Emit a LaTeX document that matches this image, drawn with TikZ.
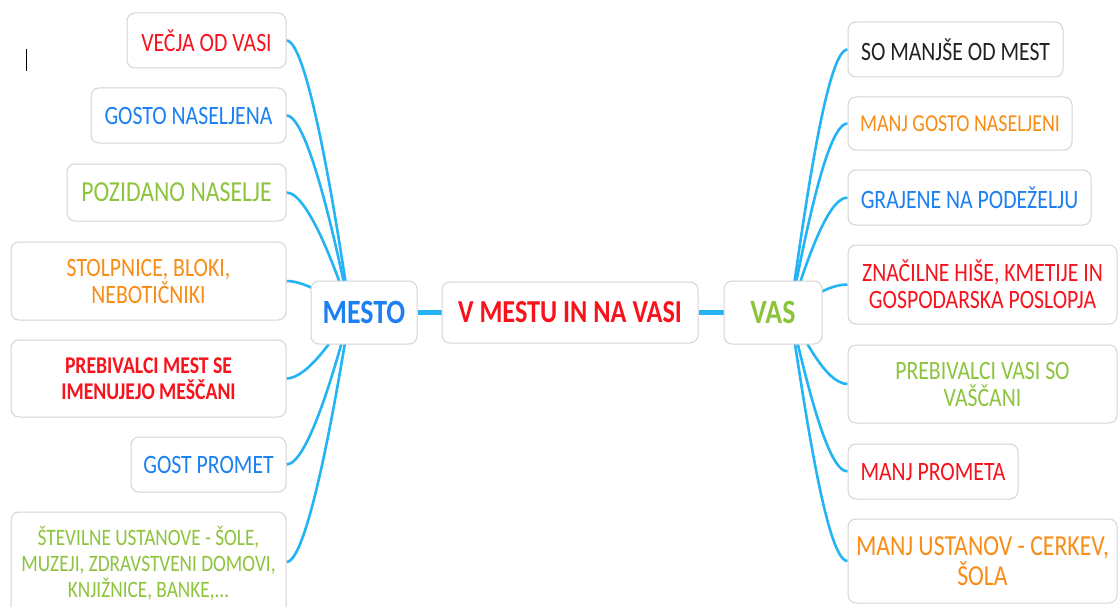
\documentclass[tikz,border=0pt]{standalone}
\usepackage{fontspec}
\setmainfont{Carlito}[FakeStretch=0.82]
\definecolor{cred}{RGB}{248,18,28}
\definecolor{cblue}{RGB}{28,128,242}
\definecolor{cgreen}{RGB}{140,196,60}
\definecolor{corange}{RGB}{249,140,20}
\definecolor{cdark}{RGB}{34,34,34}
\definecolor{boxgray}{RGB}{212,212,212}
\definecolor{linkblue}{RGB}{36,180,245}
\newcommand\myfN{\fontsize{26.5}{27}\selectfont}
\newcommand\myfM{\fontsize{24.3}{26}\selectfont}
\newcommand\myfL{\fontsize{29}{30}\selectfont}
\newcommand\myfS{\fontsize{23.5}{26}\selectfont}
\newcommand\myfB{\fontsize{24}{26}\selectfont\bfseries}
\newcommand\myfH{\fontsize{34}{36}\selectfont\bfseries}
\newcommand\myfC{\fontsize{32}{34}\selectfont\bfseries}
\pgfdeclarelayer{bg}
\pgfsetlayers{bg,main}
\begin{document}
\begin{tikzpicture}[x=1pt,y=-1pt,
  box/.style={draw=boxgray, line width=1pt, rounded corners=8pt, fill=white, inner sep=0pt, align=center},
  branch/.style={draw=linkblue, line width=2.6pt},
  trunk/.style={draw=linkblue, line width=5.5pt}]
\useasboundingbox (0,0) rectangle (1118,607);
% left children
\node[box, font=\myfN, text=cred, minimum width=159, minimum height=55] (L1) at (206.5,40.5) {VEČJA OD VASI};
\node[box, font=\myfN, text=cblue, minimum width=195, minimum height=55] (L2) at (188.5,115.5) {GOSTO NASELJENA};
\node[box, font=\myfL, text=cgreen, minimum width=219, minimum height=57] (L3) at (176.5,192.5) {POZIDANO NASELJE};
\node[box, font=\myfN, text=corange, minimum width=275, minimum height=78] (L4) at (148.5,281) {STOLPNICE, BLOKI,\\NEBOTIČNIKI};
\node[box, font=\myfB, text=cred, minimum width=275, minimum height=77] (L5) at (148.5,378.5) {PREBIVALCI MEST SE\\IMENUJEJO MEŠČANI};
\node[box, font=\myfN, text=cblue, minimum width=155, minimum height=55] (L6) at (208.5,464.5) {GOST PROMET};
\node[box, font=\myfS, text=cgreen, minimum width=275, minimum height=103] (L7) at (148.5,563.5) {ŠTEVILNE USTANOVE - ŠOLE,\\MUZEJI, ZDRAVSTVENI DOMOVI,\\KNJIŽNICE, BANKE,...};
% main nodes
\node[box, font=\myfH, text=cblue, minimum width=106, minimum height=63] (M) at (364,312.5) {MESTO};
\node[box, font=\myfC, text=cred, minimum width=256, minimum height=61] (C) at (570,312.5) {V MESTU IN NA VASI};
\node[box, font=\myfH, text=cgreen, minimum width=98, minimum height=63] (V) at (773,312.5) {VAS};
% right children
\node[box, font=\myfN, text=cdark, minimum width=215, minimum height=55] (R1) at (955.5,49.5) {SO MANJŠE OD MEST};
\node[box, font=\myfM, text=corange, minimum width=224, minimum height=53] (R2) at (960,123.5) {MANJ GOSTO NASELJENI};
\node[box, font=\myfN, text=cblue, minimum width=243, minimum height=55] (R3) at (969.5,197.5) {GRAJENE NA PODEŽELJU};
\node[box, font=\myfN, text=cred, minimum width=269, minimum height=79] (R4) at (982.5,284.5) {ZNAČILNE HIŠE, KMETIJE IN\\GOSPODARSKA POSLOPJA};
\node[box, font=\myfN, text=cgreen, minimum width=269, minimum height=78] (R5) at (982.5,384) {PREBIVALCI VASI SO\\VAŠČANI};
\node[box, font=\myfN, text=cred, minimum width=170, minimum height=55] (R6) at (933,471.5) {MANJ PROMETA};
\node[box, font=\myfL, text=corange, minimum width=269, minimum height=84] (R7) at (982.5,561) {MANJ USTANOV - CERKEV,\\ŠOLA};
\coordinate (hL) at (350,312);
\coordinate (hR) at (790,312);
\begin{pgfonlayer}{bg}
\fill[white] (0,0) rectangle (1118,607);
\draw[line width=1pt, black] (26,49) -- (26,71);
\draw[trunk] (M.east) -- (C.west);
\draw[trunk] (C.east) -- (V.west);
\draw[branch] (L1.east) .. controls +(22,0) and +(-12,-82) .. (hL);
\draw[branch] (L2.east) .. controls +(22,0) and +(-12,-59) .. (hL);
\draw[branch] (L3.east) .. controls +(22,0) and +(-12,-36) .. (hL);
\draw[branch] (L4.east) .. controls +(22,0) and +(-12,-9) .. (hL);
\draw[branch] (L5.east) .. controls +(22,0) and +(-12,20) .. (hL);
\draw[branch] (L6.east) .. controls +(22,0) and +(-12,46) .. (hL);
\draw[branch] (L7.east |- 0,562) .. controls +(22,0) and +(-12,75) .. (hL);
\draw[branch] (R1.west) .. controls +(-22,0) and +(12,-79) .. (hR);
\draw[branch] (R2.west) .. controls +(-22,0) and +(12,-57) .. (hR);
\draw[branch] (R3.west) .. controls +(-22,0) and +(12,-34) .. (hR);
\draw[branch] (R4.west) .. controls +(-22,0) and +(12,-8) .. (hR);
\draw[branch] (R5.west) .. controls +(-22,0) and +(12,22) .. (hR);
\draw[branch] (R6.west) .. controls +(-22,0) and +(12,48) .. (hR);
\draw[branch] (R7.west) .. controls +(-22,0) and +(12,75) .. (hR);
\end{pgfonlayer}
\end{tikzpicture}
\end{document}
